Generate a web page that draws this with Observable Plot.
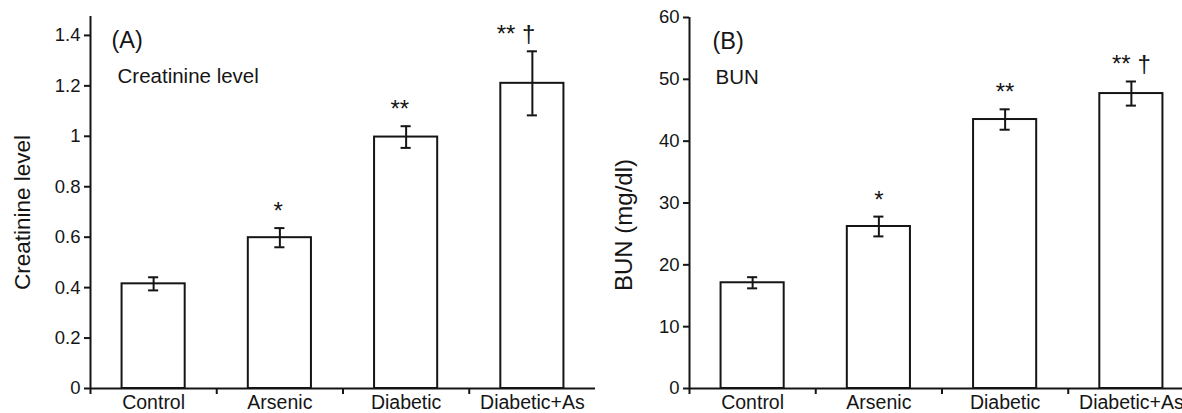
<!DOCTYPE html>
<html>
<head>
<meta charset="utf-8">
<script src="https://cdn.jsdelivr.net/npm/d3@7"></script>
<script src="https://cdn.jsdelivr.net/npm/@observablehq/plot@0.6"></script>
<style>
  html, body { margin: 0; padding: 0; background: #fff; }
  #wrap { position: relative; width: 1182px; height: 413px; overflow: hidden; background: #fff; }
  .panel { position: absolute; top: 0; width: 600px; height: 413px; }
  .panel svg { max-width: none !important; }
</style>
</head>
<body>
<div id="wrap">
  <div class="panel" id="pa" style="left:0px"></div>
  <div class="panel" id="pb" style="left:600px"></div>
</div>
<script>
// ---- data ----
const categories = ["Control", "Arsenic", "Diabetic", "Diabetic+As"];
const creatinineMean = [0.415, 0.598, 0.997, 1.21];
const creatinineErr = [0.026, 0.038, 0.043, 0.127];
const creatinineMarks = ["", "*", "**", "** \u2020"];
const creatinineTicks = [0, 0.2, 0.4, 0.6, 0.8, 1, 1.2, 1.4];

const bunMean = [17.1, 26.2, 43.5, 47.7];
const bunErr = [0.9, 1.6, 1.65, 1.95];
const bunMarks = ["", "*", "**", "** \u2020"];
const bunTicks = [0, 10, 20, 30, 40, 50, 60];

const FONT = "'Liberation Sans', Arial, Helvetica, sans-serif";
const INK = "#151515";

function panel(opts) {
  const rows = categories.map((c, i) => ({
    i, cat: c, mean: opts.mean[i], err: opts.err[i], mark: opts.marks[i]
  }));
  const half = 0.25, cap = 0.04;
  return Plot.plot({
    width: 600,
    height: 413,
    marginLeft: opts.marginLeft,
    marginRight: opts.marginRight,
    marginTop: opts.marginTop,
    marginBottom: 25,
    style: { fontFamily: FONT, fontSize: "18.5px", color: INK, background: "white" },
    x: { domain: [-0.5, 3.5] },
    y: { domain: opts.yDomain },
    marks: [
      Plot.rect(rows, {
        x1: d => d.i - half, x2: d => d.i + half, y1: 0, y2: "mean",
        fill: "white", stroke: INK, strokeWidth: 2
      }),
      Plot.ruleX(rows, { x: "i", y1: d => d.mean - d.err, y2: d => d.mean + d.err, stroke: INK, strokeWidth: 2 }),
      Plot.ruleY(rows, { y: d => d.mean + d.err, x1: d => d.i - cap, x2: d => d.i + cap, stroke: INK, strokeWidth: 2 }),
      Plot.ruleY(rows, { y: d => d.mean - d.err, x1: d => d.i - cap, x2: d => d.i + cap, stroke: INK, strokeWidth: 2 }),
      Plot.text(rows, {
        x: "i", y: d => d.mean + d.err, text: "mark",
        textAnchor: opts.markAnchor, dx: opts.markDx, dy: -9, lineAnchor: "bottom",
        fontSize: 24, fill: INK
      }),
      Plot.ruleY([0], { stroke: INK, strokeWidth: 2 }),
      Plot.ruleX([-0.5], { stroke: INK, strokeWidth: 2 }),
      Plot.axisY({
        ticks: opts.ticks, tickFormat: d => String(d), tickSize: 6, tickPadding: 4,
        strokeWidth: 2, fontSize: 18.5, label: null
      }),
      Plot.axisX({
        ticks: [-0.5, 0.5, 1.5, 2.5], tickSize: 6, tickFormat: () => "",
        strokeWidth: 2, label: null
      }),
      Plot.axisX({
        ticks: [0, 1, 2, 3], tickSize: 0, tickPadding: 7,
        tickFormat: i => categories[i], fontSize: 19.5, label: null
      }),
      Plot.text([opts.tag], {
        frameAnchor: "top-left", text: d => d, dx: opts.tagDx, dy: 24,
        lineAnchor: "middle", textAnchor: "start", fontSize: 23.5, fill: INK
      }),
      Plot.text([opts.inner], {
        frameAnchor: "top-left", text: d => d, dx: opts.innerDx, dy: 60,
        lineAnchor: "middle", textAnchor: "start", fontSize: 20.5, fill: INK
      }),
      Plot.text([opts.yTitle], {
        frameAnchor: "left", text: d => d, rotate: -90, dx: opts.titleDx, dy: opts.titleDy,
        lineAnchor: "middle", textAnchor: "middle", fontSize: opts.titleSize, fill: INK
      })
    ]
  });
}

document.getElementById("pa").append(panel({
  mean: creatinineMean, err: creatinineErr, marks: creatinineMarks, ticks: creatinineTicks,
  yDomain: [0, 1.475], marginLeft: 90, marginRight: 5, marginTop: 16,
  markAnchor: "end", markDx: 3,
  tag: "(A)", tagDx: 21, inner: "Creatinine level", innerDx: 27,
  yTitle: "Creatinine level", titleDx: -68, titleDy: 10, titleSize: 22.5
}));

document.getElementById("pb").append(panel({
  mean: bunMean, err: bunErr, marks: bunMarks, ticks: bunTicks,
  yDomain: [0, 60], marginLeft: 89, marginRight: 6, marginTop: 17,
  markAnchor: "middle", markDx: 0,
  tag: "(B)", tagDx: 23, inner: "BUN", innerDx: 26,
  yTitle: "BUN (mg/dl)", titleDx: -65, titleDy: 22, titleSize: 24
}));
</script>
</body>
</html>
